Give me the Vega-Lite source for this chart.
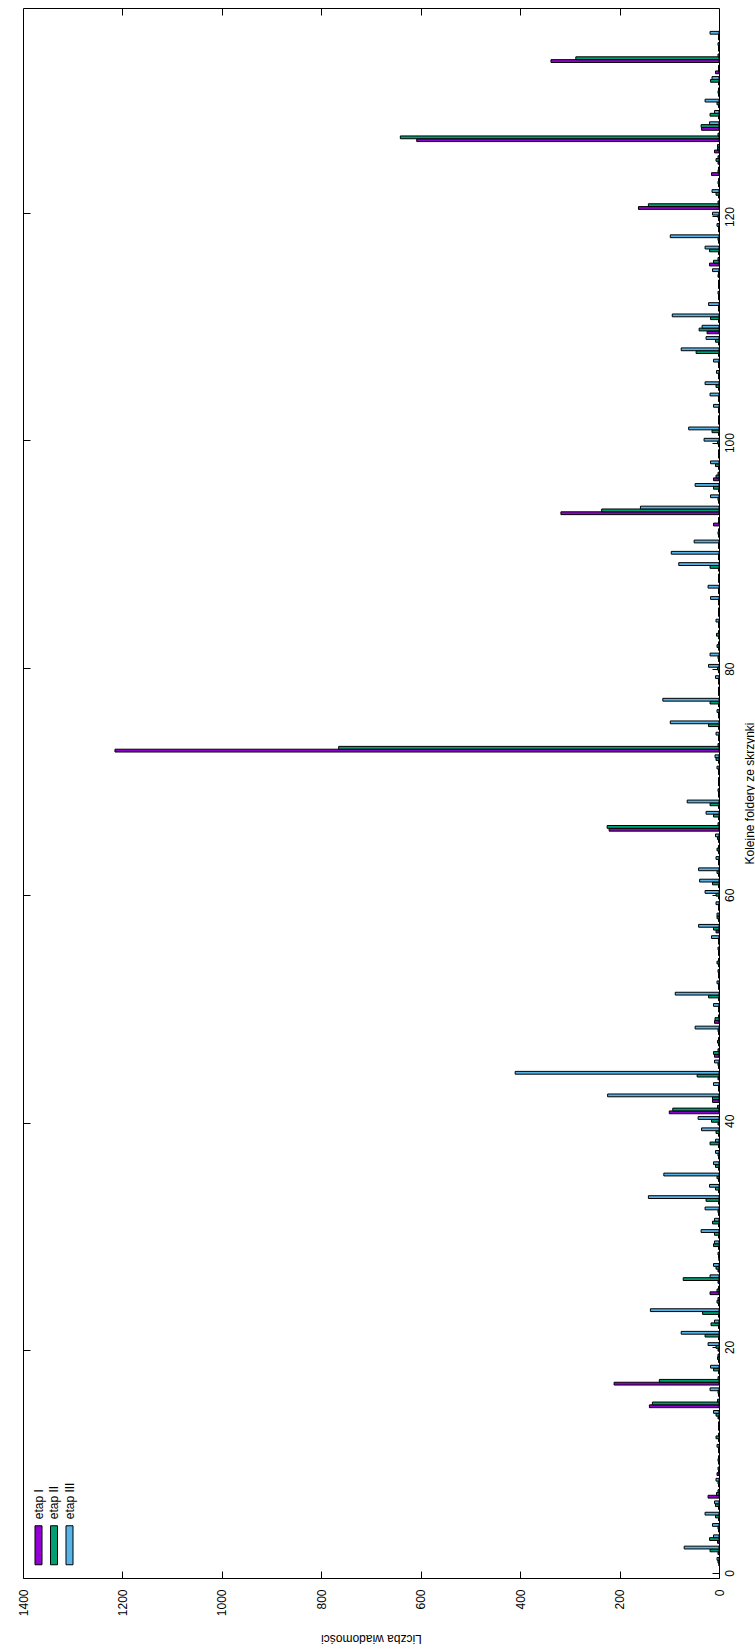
{
  "$schema": "https://vega.github.io/schema/vega-lite/v6.json",
  "width": 696,
  "height": 1570,
  "padding": {"left": 17, "top": 7, "right": 0, "bottom": 0},
  "background": "white",
  "config": {
    "view": {"stroke": "#000", "strokeWidth": 1},
    "font": "Liberation Sans",
    "axis": {
      "grid": false, "domain": false, "tickColor": "#000", "tickSize": -7, "tickWidth": 1,
      "labelColor": "#000", "titleColor": "#000", "labelFont": "Liberation Sans", "titleFont": "Liberation Sans",
      "labelFontSize": 12, "titleFontSize": 12, "titleFontWeight": "normal", "labelFlush": false, "labelOverlap": false, "format": "d"
    }
  },
  "data": {"values": [
    {"f":1,"e":"etap I","n":0},{"f":1,"e":"etap II","n":2},{"f":1,"e":"etap III","n":4},
    {"f":2,"e":"etap I","n":2},{"f":2,"e":"etap II","n":18},{"f":2,"e":"etap III","n":70},
    {"f":3,"e":"etap I","n":3},{"f":3,"e":"etap II","n":19},{"f":3,"e":"etap III","n":11},
    {"f":4,"e":"etap I","n":1},{"f":4,"e":"etap II","n":2},{"f":4,"e":"etap III","n":13},
    {"f":5,"e":"etap I","n":1},{"f":5,"e":"etap II","n":7},{"f":5,"e":"etap III","n":28},
    {"f":6,"e":"etap I","n":1},{"f":6,"e":"etap II","n":7},{"f":6,"e":"etap III","n":9},
    {"f":7,"e":"etap I","n":22},{"f":7,"e":"etap II","n":5},{"f":7,"e":"etap III","n":2},
    {"f":8,"e":"etap I","n":1},{"f":8,"e":"etap II","n":2},{"f":8,"e":"etap III","n":6},
    {"f":9,"e":"etap I","n":4},{"f":9,"e":"etap II","n":1},{"f":9,"e":"etap III","n":2},
    {"f":10,"e":"etap I","n":1},{"f":10,"e":"etap II","n":2},{"f":10,"e":"etap III","n":1},
    {"f":11,"e":"etap I","n":1},{"f":11,"e":"etap II","n":1},{"f":11,"e":"etap III","n":4},
    {"f":12,"e":"etap I","n":1},{"f":12,"e":"etap II","n":6},{"f":12,"e":"etap III","n":1},
    {"f":13,"e":"etap I","n":1},{"f":13,"e":"etap II","n":1},{"f":13,"e":"etap III","n":1},
    {"f":14,"e":"etap I","n":2},{"f":14,"e":"etap II","n":6},{"f":14,"e":"etap III","n":11},
    {"f":15,"e":"etap I","n":140},{"f":15,"e":"etap II","n":134},{"f":15,"e":"etap III","n":3},
    {"f":16,"e":"etap I","n":1},{"f":16,"e":"etap II","n":2},{"f":16,"e":"etap III","n":18},
    {"f":17,"e":"etap I","n":211},{"f":17,"e":"etap II","n":120},{"f":17,"e":"etap III","n":2},
    {"f":18,"e":"etap I","n":1},{"f":18,"e":"etap II","n":11},{"f":18,"e":"etap III","n":17},
    {"f":19,"e":"etap I","n":1},{"f":19,"e":"etap II","n":3},{"f":19,"e":"etap III","n":2},
    {"f":20,"e":"etap I","n":2},{"f":20,"e":"etap II","n":6},{"f":20,"e":"etap III","n":22},
    {"f":21,"e":"etap I","n":1},{"f":21,"e":"etap II","n":28},{"f":21,"e":"etap III","n":76},
    {"f":22,"e":"etap I","n":1},{"f":22,"e":"etap II","n":16},{"f":22,"e":"etap III","n":9},
    {"f":23,"e":"etap I","n":1},{"f":23,"e":"etap II","n":33},{"f":23,"e":"etap III","n":138},
    {"f":24,"e":"etap I","n":1},{"f":24,"e":"etap II","n":4},{"f":24,"e":"etap III","n":2},
    {"f":25,"e":"etap I","n":18},{"f":25,"e":"etap II","n":4},{"f":25,"e":"etap III","n":1},
    {"f":26,"e":"etap I","n":2},{"f":26,"e":"etap II","n":72},{"f":26,"e":"etap III","n":18},
    {"f":27,"e":"etap I","n":2},{"f":27,"e":"etap II","n":6},{"f":27,"e":"etap III","n":11},
    {"f":28,"e":"etap I","n":0},{"f":28,"e":"etap II","n":1},{"f":28,"e":"etap III","n":2},
    {"f":29,"e":"etap I","n":1},{"f":29,"e":"etap II","n":11},{"f":29,"e":"etap III","n":9},
    {"f":30,"e":"etap I","n":1},{"f":30,"e":"etap II","n":9},{"f":30,"e":"etap III","n":36},
    {"f":31,"e":"etap I","n":1},{"f":31,"e":"etap II","n":13},{"f":31,"e":"etap III","n":9},
    {"f":32,"e":"etap I","n":1},{"f":32,"e":"etap II","n":2},{"f":32,"e":"etap III","n":28},
    {"f":33,"e":"etap I","n":1},{"f":33,"e":"etap II","n":26},{"f":33,"e":"etap III","n":142},
    {"f":34,"e":"etap I","n":1},{"f":34,"e":"etap II","n":7},{"f":34,"e":"etap III","n":19},
    {"f":35,"e":"etap I","n":1},{"f":35,"e":"etap II","n":4},{"f":35,"e":"etap III","n":111},
    {"f":36,"e":"etap I","n":1},{"f":36,"e":"etap II","n":7},{"f":36,"e":"etap III","n":11},
    {"f":37,"e":"etap I","n":1},{"f":37,"e":"etap II","n":2},{"f":37,"e":"etap III","n":7},
    {"f":38,"e":"etap I","n":1},{"f":38,"e":"etap II","n":18},{"f":38,"e":"etap III","n":7},
    {"f":39,"e":"etap I","n":1},{"f":39,"e":"etap II","n":6},{"f":39,"e":"etap III","n":35},
    {"f":40,"e":"etap I","n":2},{"f":40,"e":"etap II","n":15},{"f":40,"e":"etap III","n":42},
    {"f":41,"e":"etap I","n":100},{"f":41,"e":"etap II","n":93},{"f":41,"e":"etap III","n":3},
    {"f":42,"e":"etap I","n":13},{"f":42,"e":"etap II","n":13},{"f":42,"e":"etap III","n":224},
    {"f":43,"e":"etap I","n":1},{"f":43,"e":"etap II","n":1},{"f":43,"e":"etap III","n":11},
    {"f":44,"e":"etap I","n":2},{"f":44,"e":"etap II","n":44},{"f":44,"e":"etap III","n":410},
    {"f":45,"e":"etap I","n":1},{"f":45,"e":"etap II","n":2},{"f":45,"e":"etap III","n":9},
    {"f":46,"e":"etap I","n":9},{"f":46,"e":"etap II","n":11},{"f":46,"e":"etap III","n":2},
    {"f":47,"e":"etap I","n":1},{"f":47,"e":"etap II","n":3},{"f":47,"e":"etap III","n":1},
    {"f":48,"e":"etap I","n":1},{"f":48,"e":"etap II","n":2},{"f":48,"e":"etap III","n":48},
    {"f":49,"e":"etap I","n":9},{"f":49,"e":"etap II","n":8},{"f":49,"e":"etap III","n":1},
    {"f":50,"e":"etap I","n":1},{"f":50,"e":"etap II","n":1},{"f":50,"e":"etap III","n":11},
    {"f":51,"e":"etap I","n":1},{"f":51,"e":"etap II","n":21},{"f":51,"e":"etap III","n":88},
    {"f":52,"e":"etap I","n":1},{"f":52,"e":"etap II","n":1},{"f":52,"e":"etap III","n":4},
    {"f":53,"e":"etap I","n":1},{"f":53,"e":"etap II","n":1},{"f":53,"e":"etap III","n":2},
    {"f":54,"e":"etap I","n":1},{"f":54,"e":"etap II","n":4},{"f":54,"e":"etap III","n":1},
    {"f":55,"e":"etap I","n":1},{"f":55,"e":"etap II","n":1},{"f":55,"e":"etap III","n":2},
    {"f":56,"e":"etap I","n":1},{"f":56,"e":"etap II","n":1},{"f":56,"e":"etap III","n":15},
    {"f":57,"e":"etap I","n":6},{"f":57,"e":"etap II","n":11},{"f":57,"e":"etap III","n":41},
    {"f":58,"e":"etap I","n":1},{"f":58,"e":"etap II","n":4},{"f":58,"e":"etap III","n":4},
    {"f":59,"e":"etap I","n":1},{"f":59,"e":"etap II","n":1},{"f":59,"e":"etap III","n":6},
    {"f":60,"e":"etap I","n":1},{"f":60,"e":"etap II","n":6},{"f":60,"e":"etap III","n":28},
    {"f":61,"e":"etap I","n":1},{"f":61,"e":"etap II","n":13},{"f":61,"e":"etap III","n":39},
    {"f":62,"e":"etap I","n":1},{"f":62,"e":"etap II","n":4},{"f":62,"e":"etap III","n":41},
    {"f":63,"e":"etap I","n":1},{"f":63,"e":"etap II","n":1},{"f":63,"e":"etap III","n":6},
    {"f":64,"e":"etap I","n":1},{"f":64,"e":"etap II","n":4},{"f":64,"e":"etap III","n":1},
    {"f":65,"e":"etap I","n":1},{"f":65,"e":"etap II","n":3},{"f":65,"e":"etap III","n":7},
    {"f":66,"e":"etap I","n":221},{"f":66,"e":"etap II","n":225},{"f":66,"e":"etap III","n":2},
    {"f":67,"e":"etap I","n":1},{"f":67,"e":"etap II","n":11},{"f":67,"e":"etap III","n":26},
    {"f":68,"e":"etap I","n":1},{"f":68,"e":"etap II","n":18},{"f":68,"e":"etap III","n":64},
    {"f":69,"e":"etap I","n":1},{"f":69,"e":"etap II","n":1},{"f":69,"e":"etap III","n":2},
    {"f":70,"e":"etap I","n":1},{"f":70,"e":"etap II","n":1},{"f":70,"e":"etap III","n":1},
    {"f":71,"e":"etap I","n":1},{"f":71,"e":"etap II","n":1},{"f":71,"e":"etap III","n":4},
    {"f":72,"e":"etap I","n":1},{"f":72,"e":"etap II","n":6},{"f":72,"e":"etap III","n":8},
    {"f":73,"e":"etap I","n":1215},{"f":73,"e":"etap II","n":765},{"f":73,"e":"etap III","n":2},
    {"f":74,"e":"etap I","n":1},{"f":74,"e":"etap II","n":1},{"f":74,"e":"etap III","n":6},
    {"f":75,"e":"etap I","n":1},{"f":75,"e":"etap II","n":21},{"f":75,"e":"etap III","n":98},
    {"f":76,"e":"etap I","n":1},{"f":76,"e":"etap II","n":1},{"f":76,"e":"etap III","n":4},
    {"f":77,"e":"etap I","n":1},{"f":77,"e":"etap II","n":18},{"f":77,"e":"etap III","n":113},
    {"f":78,"e":"etap I","n":1},{"f":78,"e":"etap II","n":1},{"f":78,"e":"etap III","n":1},
    {"f":79,"e":"etap I","n":1},{"f":79,"e":"etap II","n":1},{"f":79,"e":"etap III","n":7},
    {"f":80,"e":"etap I","n":1},{"f":80,"e":"etap II","n":3},{"f":80,"e":"etap III","n":21},
    {"f":81,"e":"etap I","n":1},{"f":81,"e":"etap II","n":2},{"f":81,"e":"etap III","n":18},
    {"f":82,"e":"etap I","n":1},{"f":82,"e":"etap II","n":4},{"f":82,"e":"etap III","n":1},
    {"f":83,"e":"etap I","n":1},{"f":83,"e":"etap II","n":5},{"f":83,"e":"etap III","n":1},
    {"f":84,"e":"etap I","n":1},{"f":84,"e":"etap II","n":1},{"f":84,"e":"etap III","n":6},
    {"f":85,"e":"etap I","n":1},{"f":85,"e":"etap II","n":1},{"f":85,"e":"etap III","n":1},
    {"f":86,"e":"etap I","n":1},{"f":86,"e":"etap II","n":1},{"f":86,"e":"etap III","n":17},
    {"f":87,"e":"etap I","n":1},{"f":87,"e":"etap II","n":1},{"f":87,"e":"etap III","n":22},
    {"f":88,"e":"etap I","n":1},{"f":88,"e":"etap II","n":1},{"f":88,"e":"etap III","n":1},
    {"f":89,"e":"etap I","n":1},{"f":89,"e":"etap II","n":18},{"f":89,"e":"etap III","n":81},
    {"f":90,"e":"etap I","n":1},{"f":90,"e":"etap II","n":1},{"f":90,"e":"etap III","n":96},
    {"f":91,"e":"etap I","n":1},{"f":91,"e":"etap II","n":1},{"f":91,"e":"etap III","n":50},
    {"f":92,"e":"etap I","n":1},{"f":92,"e":"etap II","n":2},{"f":92,"e":"etap III","n":1},
    {"f":93,"e":"etap I","n":11},{"f":93,"e":"etap II","n":1},{"f":93,"e":"etap III","n":1},
    {"f":94,"e":"etap I","n":318},{"f":94,"e":"etap II","n":236},{"f":94,"e":"etap III","n":158},
    {"f":95,"e":"etap I","n":1},{"f":95,"e":"etap II","n":2},{"f":95,"e":"etap III","n":17},
    {"f":96,"e":"etap I","n":1},{"f":96,"e":"etap II","n":11},{"f":96,"e":"etap III","n":48},
    {"f":97,"e":"etap I","n":11},{"f":97,"e":"etap II","n":6},{"f":97,"e":"etap III","n":2},
    {"f":98,"e":"etap I","n":1},{"f":98,"e":"etap II","n":7},{"f":98,"e":"etap III","n":17},
    {"f":99,"e":"etap I","n":1},{"f":99,"e":"etap II","n":1},{"f":99,"e":"etap III","n":1},
    {"f":100,"e":"etap I","n":1},{"f":100,"e":"etap II","n":3},{"f":100,"e":"etap III","n":30},
    {"f":101,"e":"etap I","n":1},{"f":101,"e":"etap II","n":14},{"f":101,"e":"etap III","n":61},
    {"f":102,"e":"etap I","n":1},{"f":102,"e":"etap II","n":1},{"f":102,"e":"etap III","n":1},
    {"f":103,"e":"etap I","n":1},{"f":103,"e":"etap II","n":1},{"f":103,"e":"etap III","n":11},
    {"f":104,"e":"etap I","n":1},{"f":104,"e":"etap II","n":1},{"f":104,"e":"etap III","n":18},
    {"f":105,"e":"etap I","n":1},{"f":105,"e":"etap II","n":6},{"f":105,"e":"etap III","n":28},
    {"f":106,"e":"etap I","n":1},{"f":106,"e":"etap II","n":1},{"f":106,"e":"etap III","n":5},
    {"f":107,"e":"etap I","n":1},{"f":107,"e":"etap II","n":1},{"f":107,"e":"etap III","n":11},
    {"f":108,"e":"etap I","n":1},{"f":108,"e":"etap II","n":46},{"f":108,"e":"etap III","n":76},
    {"f":109,"e":"etap I","n":1},{"f":109,"e":"etap II","n":7},{"f":109,"e":"etap III","n":26},
    {"f":110,"e":"etap I","n":24},{"f":110,"e":"etap II","n":40},{"f":110,"e":"etap III","n":34},
    {"f":111,"e":"etap I","n":1},{"f":111,"e":"etap II","n":17},{"f":111,"e":"etap III","n":94},
    {"f":112,"e":"etap I","n":1},{"f":112,"e":"etap II","n":1},{"f":112,"e":"etap III","n":21},
    {"f":113,"e":"etap I","n":1},{"f":113,"e":"etap II","n":1},{"f":113,"e":"etap III","n":2},
    {"f":114,"e":"etap I","n":1},{"f":114,"e":"etap II","n":1},{"f":114,"e":"etap III","n":1},
    {"f":115,"e":"etap I","n":2},{"f":115,"e":"etap II","n":1},{"f":115,"e":"etap III","n":13},
    {"f":116,"e":"etap I","n":19},{"f":116,"e":"etap II","n":11},{"f":116,"e":"etap III","n":2},
    {"f":117,"e":"etap I","n":1},{"f":117,"e":"etap II","n":19},{"f":117,"e":"etap III","n":28},
    {"f":118,"e":"etap I","n":1},{"f":118,"e":"etap II","n":2},{"f":118,"e":"etap III","n":98},
    {"f":119,"e":"etap I","n":1},{"f":119,"e":"etap II","n":1},{"f":119,"e":"etap III","n":4},
    {"f":120,"e":"etap I","n":1},{"f":120,"e":"etap II","n":2},{"f":120,"e":"etap III","n":13},
    {"f":121,"e":"etap I","n":162},{"f":121,"e":"etap II","n":142},{"f":121,"e":"etap III","n":2},
    {"f":122,"e":"etap I","n":1},{"f":122,"e":"etap II","n":6},{"f":122,"e":"etap III","n":14},
    {"f":123,"e":"etap I","n":1},{"f":123,"e":"etap II","n":2},{"f":123,"e":"etap III","n":1},
    {"f":124,"e":"etap I","n":15},{"f":124,"e":"etap II","n":2},{"f":124,"e":"etap III","n":1},
    {"f":125,"e":"etap I","n":2},{"f":125,"e":"etap II","n":6},{"f":125,"e":"etap III","n":2},
    {"f":126,"e":"etap I","n":9},{"f":126,"e":"etap II","n":3},{"f":126,"e":"etap III","n":3},
    {"f":127,"e":"etap I","n":608},{"f":127,"e":"etap II","n":641},{"f":127,"e":"etap III","n":2},
    {"f":128,"e":"etap I","n":35},{"f":128,"e":"etap II","n":36},{"f":128,"e":"etap III","n":19},
    {"f":129,"e":"etap I","n":1},{"f":129,"e":"etap II","n":18},{"f":129,"e":"etap III","n":9},
    {"f":130,"e":"etap I","n":1},{"f":130,"e":"etap II","n":4},{"f":130,"e":"etap III","n":28},
    {"f":131,"e":"etap I","n":1},{"f":131,"e":"etap II","n":2},{"f":131,"e":"etap III","n":1},
    {"f":132,"e":"etap I","n":1},{"f":132,"e":"etap II","n":17},{"f":132,"e":"etap III","n":14},
    {"f":133,"e":"etap I","n":7},{"f":133,"e":"etap II","n":1},{"f":133,"e":"etap III","n":1},
    {"f":134,"e":"etap I","n":338},{"f":134,"e":"etap II","n":288},{"f":134,"e":"etap III","n":2},
    {"f":135,"e":"etap I","n":1},{"f":135,"e":"etap II","n":1},{"f":135,"e":"etap III","n":2},
    {"f":136,"e":"etap I","n":1},{"f":136,"e":"etap II","n":1},{"f":136,"e":"etap III","n":18}
  ]},
  "encoding": {
    "x": {"field": "n", "type": "quantitative", "stack": null,
          "scale": {"domain": [0, 1400], "reverse": true, "nice": false, "zero": true}},
    "color": {"field": "e", "type": "nominal",
      "scale": {"domain": ["etap I", "etap II", "etap III"], "range": ["#9400d3", "#009e73", "#56b4e9"]},
      "legend": {
        "orient": "none", "legendX": 9.5, "legendY": 1517, "padding": 0, "direction": "horizontal", "title": null,
        "symbolType": "M-0.18,-1H0.18V1H-0.18Z", "symbolSize": 1521,
        "symbolStrokeColor": "#000", "symbolStrokeWidth": 1, "symbolOpacity": 1,
        "labelFont": "Liberation Sans", "labelFontSize": 12, "labelColor": "#000",
        "columnPadding": 2.5,
        "encode": {
          "symbols": {"update": {"x": {"value": 6}}},
          "labels": {"update": {"angle": {"value": 270}, "align": {"value": "left"}, "baseline": {"value": "middle"}, "x": {"value": 6}, "y": {"value": -6}}}
        }
      }
    }
  },
  "layer": [
    {
      "transform": [{"filter": "datum.e === 'etap I'"}],
      "mark": {"type": "bar", "orient": "horizontal", "size": 2.8, "stroke": "#000", "strokeWidth": 1},
      "encoding": {
        "x": {"field": "n", "type": "quantitative", "stack": null, "axis": null},
        "y": {"field": "f", "type": "quantitative", "scale": {"domain": [0.25, 138.25], "nice": false, "zero": false}, "axis": null}
      }
    },
    {
      "transform": [{"filter": "datum.e === 'etap II'"}],
      "mark": {"type": "bar", "orient": "horizontal", "size": 2.8, "stroke": "#000", "strokeWidth": 1},
      "encoding": {
        "x": {"field": "n", "type": "quantitative", "stack": null,
              "axis": {"orient": "bottom", "values": [0, 200, 400, 600, 800, 1000, 1200, 1400], "labelAngle": 270, "labelAlign": "right", "labelBaseline": "middle", "labelPadding": 18,
                       "title": "Liczba wiadomości", "titleAngle": 180, "titleBaseline": "bottom", "titlePadding": 16}},
        "y": {"field": "f", "type": "quantitative", "scale": {"domain": [0, 138], "nice": false, "zero": false},
              "axis": {"orient": "right", "values": [0, 20, 40, 60, 80, 100, 120], "labelAngle": 270, "labelAlign": "center", "labelBaseline": "top", "labelPadding": 12,
                       "title": "Kolejne foldery ze skrzynki", "titleAngle": 270, "titleBaseline": "top", "titlePadding": 9}}
      }
    },
    {
      "transform": [{"filter": "datum.e === 'etap III'"}],
      "mark": {"type": "bar", "orient": "horizontal", "size": 2.8, "stroke": "#000", "strokeWidth": 1},
      "encoding": {
        "x": {"field": "n", "type": "quantitative", "stack": null, "axis": null},
        "y": {"field": "f", "type": "quantitative", "scale": {"domain": [-0.25, 137.75], "nice": false, "zero": false}, "axis": null}
      }
    },
    {
      "transform": [{"filter": "datum.e === 'etap II'"}],
      "mark": {"type": "point", "opacity": 0},
      "encoding": {
        "color": {"value": "#000"},
        "x": {"field": "n", "type": "quantitative", "stack": null,
              "axis": {"orient": "top", "values": [200, 400, 600, 800, 1000, 1200], "labels": false, "title": null}},
        "y": {"field": "f", "type": "quantitative", "scale": {"domain": [0, 138], "nice": false, "zero": false},
              "axis": {"orient": "left", "values": [20, 40, 60, 80, 100, 120], "labels": false, "title": null}}
      }
    }
  ],
  "resolve": {"scale": {"y": "independent"}, "axis": {"x": "independent", "y": "independent"}}
}
